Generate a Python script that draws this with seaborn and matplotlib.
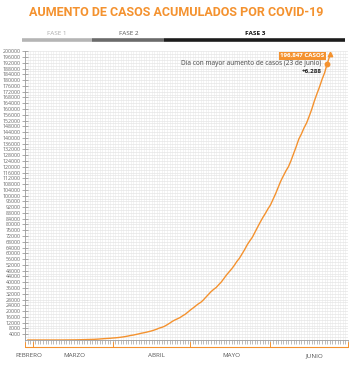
import pandas as pd
import matplotlib
matplotlib.use('Agg')
import matplotlib.pyplot as plt
import matplotlib.dates as mdates
import matplotlib.transforms as mtransforms
import seaborn as sns

# Casos acumulados diarios (28 feb - 24 jun)
casos_feb = [1, 4]
casos_mar = [5, 5, 5, 5, 5, 6, 6, 7, 7, 7, 11, 12, 26, 41, 53, 82, 93, 118, 164, 203,
             251, 316, 367, 405, 475, 585, 717, 848, 993, 1094, 1215]
casos_abr = [1378, 1510, 1688, 1890, 2143, 2439, 2785, 3181, 3441, 3844, 4219, 4661,
             5014, 5399, 5847, 6297, 6875, 7497, 8261, 8772, 9501, 10544, 11633, 12872,
             13842, 14677, 15529, 16752, 17799, 19224]
casos_may = [20739, 22088, 23471, 24905, 26025, 27634, 29616, 31522, 33460, 35022, 36327,
             38324, 40186, 42595, 45032, 47144, 49219, 51633, 54346, 56594, 59567, 62527,
             65856, 68620, 71105, 74560, 78023, 81400, 84627, 87512, 90664]
casos_jun = [93435, 97326, 101238, 105680, 110026, 113619, 117103, 120102, 124301, 129184,
             133974, 139196, 142690, 146837, 150264, 154863, 159793, 165455, 170485, 175202,
             180545, 185122, 191410, 196847]

casos = casos_feb + casos_mar + casos_abr + casos_may + casos_jun
fechas = pd.date_range('2020-02-28', periods=len(casos), freq='D')
df = pd.DataFrame({'fecha': fechas, 'casos': casos})

fases = ['FASE 1', 'FASE 2', 'FASE 3']
fases_limites = ['2020-02-26', '2020-03-24', '2020-04-21', '2020-06-30']
meses = ['FEBRERO', 'MARZO', 'ABRIL', 'MAYO', 'JUNIO']
meses_pos = ['2020-02-28 12:00', '2020-03-17', '2020-04-18', '2020-05-17', '2020-06-18']
meses_limites = ['2020-02-27', '2020-03-01', '2020-04-01', '2020-05-01', '2020-06-01', '2020-07-01']
fecha_max = '2020-06-23'
casos_max = 191410
aumento_max = 6288

NARANJA = '#f4922f'
sns.set_theme(style='white')
plt.rcParams['font.family'] = ['Open Sans', 'DejaVu Sans']

fig = plt.figure(figsize=(3.5, 3.65), dpi=100)
ax = fig.add_axes([0.0714, 0.0685, 0.9226, 0.7931])

sns.lineplot(data=df, x='fecha', y='casos', ax=ax, color=NARANJA, linewidth=1.0, zorder=5)

ax.set_xlim(pd.Timestamp('2020-02-27'), pd.Timestamp('2020-07-01'))
ax.set_ylim(0, 200500)
ax.set_xlabel('')
ax.set_ylabel('')

ax.set_yticks(range(4000, 200001, 4000))
ax.set_yticks(range(2000, 200001, 4000), minor=True)
ax.yaxis.set_major_formatter(matplotlib.ticker.FormatStrFormatter('%d'))
ax.xaxis.set_major_locator(mdates.DayLocator())
ax.xaxis.set_major_formatter(matplotlib.ticker.NullFormatter())

ax.tick_params(axis='y', which='major', direction='inout', length=4, width=0.5,
               color='#8a8a8a', labelsize=3.8, labelcolor='#666666', pad=1)
ax.tick_params(axis='y', which='minor', length=0)
ax.tick_params(axis='x', which='major', direction='out', length=3, width=0.4, color='#8a8a8a')
ax.tick_params(left=True, bottom=True)

ax.grid(which='both', axis='y', color='#e6e6e6', linewidth=0.5)
ax.grid(which='major', axis='x', color='#efefef', linewidth=0.5)
ax.set_axisbelow(True)

for lado in ['top', 'right']:
    ax.spines[lado].set_visible(False)
for lado in ['left', 'bottom']:
    ax.spines[lado].set_color('#9a9a9a')
    ax.spines[lado].set_linewidth(0.6)

trans = mtransforms.blended_transform_factory(ax.transData, ax.transAxes)

# Barra de fases
colores_fase = ['#b5b5b5', '#6b6b6b', '#1c1c1c']
colores_txt = ['#aaaaaa', '#555555', '#111111']
for i, fase in enumerate(fases):
    x0 = pd.Timestamp(fases_limites[i])
    x1 = pd.Timestamp(fases_limites[i + 1])
    ax.plot([x0, x1], [1.036, 1.036], transform=trans, color=colores_fase[i],
            linewidth=2.6, solid_capstyle='butt', clip_on=False)
    ax.text(x0 + (x1 - x0) / 2, 1.058, fase, transform=trans, ha='center', va='center',
            fontsize=4.6, color=colores_txt[i], fontweight='bold' if i == 2 else 'normal')

# Corchetes de meses
lim = [pd.Timestamp(m) for m in meses_limites]
ax.plot([lim[0], lim[-1]], [-0.024, -0.024], transform=trans, color=NARANJA,
        linewidth=0.8, clip_on=False)
for m in lim:
    ax.plot([m, m], [-0.024, -0.006], transform=trans, color=NARANJA,
            linewidth=0.7, clip_on=False)
for mes, pos in zip(meses, meses_pos):
    ax.text(pd.Timestamp(pos), -0.055, mes, transform=trans, ha='center', va='center',
            fontsize=4.5, color='#555555')

# Anotaciones
ultimo = df.iloc[-1]
ax.plot(ultimo['fecha'], ultimo['casos'] + 1500, marker='^', markersize=3.2,
        color=NARANJA, zorder=6, clip_on=False)
ax.annotate(f"{ultimo['casos']:,} CASOS", xy=(ultimo['fecha'], ultimo['casos']),
            xytext=(-4, 0), textcoords='offset points', ha='right', va='center',
            fontsize=4.4, fontweight='bold', color='white',
            bbox=dict(boxstyle='square,pad=0.25', fc=NARANJA, ec='none'))
ax.plot(pd.Timestamp(fecha_max), casos_max, marker='o', markersize=3.2, color=NARANJA, zorder=6)
ax.annotate('Día con mayor aumento de casos (23 de junio)',
            xy=(pd.Timestamp(fecha_max), casos_max), xytext=(-4, 0),
            textcoords='offset points', ha='right', va='center', fontsize=4.7, color='#444444')
ax.annotate(f'+{aumento_max:,}', xy=(pd.Timestamp(fecha_max), casos_max), xytext=(-4, -5.8),
            textcoords='offset points', ha='right', va='center', fontsize=4.5,
            fontweight='bold', color='#222222')

fig.text(0.503, 0.965, 'AUMENTO DE CASOS ACUMULADOS POR COVID-19', ha='center', va='center',
         fontsize=9, fontweight='bold', color=NARANJA, family=['Roboto', 'DejaVu Sans'])

fig.savefig('out.png', dpi=100)
